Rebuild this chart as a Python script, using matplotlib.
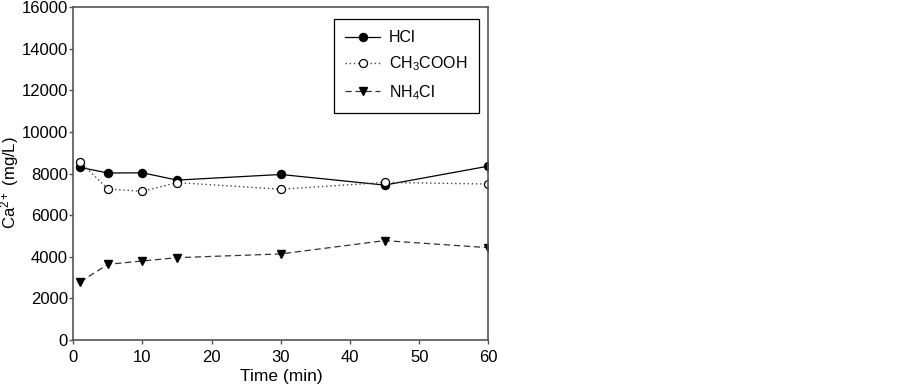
import matplotlib
matplotlib.use("Agg")
import matplotlib.pyplot as plt

plt.rcParams['font.family'] = ['Liberation Sans', 'DejaVu Sans']
plt.rcParams['mathtext.fontset'] = 'custom'
plt.rcParams['mathtext.rm'] = 'Liberation Sans'
plt.rcParams['mathtext.it'] = 'Liberation Sans'

time = [1, 5, 10, 15, 30, 45, 60]
hcl = [8300, 8030, 8040, 7690, 7960, 7450, 8360]
acetic = [8560, 7260, 7150, 7570, 7250, 7580, 7500]
nh4cl = [2800, 3640, 3800, 3960, 4140, 4780, 4440]

fig = plt.figure(figsize=(9.03, 3.91), dpi=100)
ax = fig.add_axes([0.0812, 0.1304, 0.4596, 0.851])

ax.plot(time, hcl, color='black', lw=0.9, marker='o', ms=5.8,
        mfc='black', mec='black', label='HCl')
ax.plot(time, acetic, color='#444444', lw=1.0, ls=(0, (1, 2)), marker='o', ms=5.8,
        mfc='white', mec='black', mew=0.9, label='CH$_3$COOH')
ax.plot(time, nh4cl, color='#333333', lw=0.9, ls=(0, (5, 3)), marker='v', ms=6,
        mfc='black', mec='black', label='NH$_4$Cl')

ax.set_xlim(0, 60)
ax.set_ylim(0, 16000)
ax.set_xticks([0, 10, 20, 30, 40, 50, 60])
ax.set_yticks(range(0, 16001, 2000))
ax.set_xlabel('Time (min)', fontsize=12.5, labelpad=3)
ax.set_ylabel('Ca$^{2+}$ (mg/L)', fontsize=12)
ax.yaxis.set_label_coords(-0.125, 0.473)
ax.tick_params(labelsize=12, length=3, width=1, color='#555555', pad=1)
ax.tick_params(axis='x', pad=4)
for s in ax.spines.values():
    s.set_color('#555555')
    s.set_linewidth(1.2)

leg = ax.legend(loc='upper left', bbox_to_anchor=(334 / 903, 1 - 19 / 391),
                bbox_transform=fig.transFigure, fontsize=11.5, fancybox=False,
                edgecolor='black', framealpha=1, handlelength=2.2,
                handletextpad=0.55, borderpad=0.7, labelspacing=0.6,
                borderaxespad=0)
leg.get_frame().set_linewidth(0.9)

fig.savefig('out.png', dpi=100)
